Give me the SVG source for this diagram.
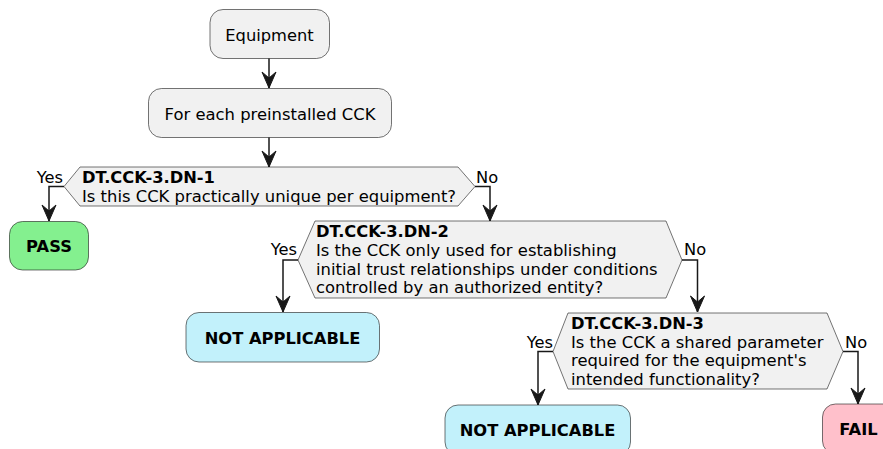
<svg xmlns="http://www.w3.org/2000/svg" width="883" height="449" viewBox="0 0 883 449">
<defs>
<style>
.node{fill:#F1F1F1;stroke:#181818;stroke-width:0.6}
.pass{fill:#84F08F;stroke:#181818;stroke-width:0.6}
.na{fill:#C2F1FB;stroke:#181818;stroke-width:0.6}
.fail{fill:#FFC0CB;stroke:#181818;stroke-width:0.6}
text{font-family:"DejaVu Sans",Verdana,sans-serif;font-size:16.3px;fill:#000}
.b{font-weight:bold}
.c{text-anchor:middle}
.e{text-anchor:end}
.edge{fill:none;stroke:#181818;stroke-width:1.5}
.ah{fill:#181818;stroke:#181818;stroke-width:1}
</style>
</defs>
<rect width="883" height="449" fill="#FFFFFF"/>

<g id="connectors">
<path class="edge" d="M269,58 V88"/>
<path class="ah" d="M262,72 L269,88 L276,72 L269,78 Z"/>
<path class="edge" d="M269,137 V167"/>
<path class="ah" d="M262,151 L269,167 L276,151 L269,157 Z"/>
<path class="edge" d="M64,186.5 H49 V221"/>
<path class="ah" d="M42,205 L49,221 L56,205 L49,211 Z"/>
<text x="63" y="183" class="e">Yes</text>
<path class="edge" d="M475,186.5 H490 V221"/>
<path class="ah" d="M483,205 L490,221 L497,205 L490,211 Z"/>
<text x="476" y="183">No</text>
<path class="edge" d="M298,260 H283 V312"/>
<path class="ah" d="M276,296 L283,312 L290,296 L283,302 Z"/>
<text x="297" y="255" class="e">Yes</text>
<path class="edge" d="M682,260 H697.5 V312"/>
<path class="ah" d="M690.5,296 L697.5,312 L704.5,296 L697.5,302 Z"/>
<text x="684" y="255">No</text>
<path class="edge" d="M553,351.5 H538 V405"/>
<path class="ah" d="M531,389 L538,405 L545,389 L538,395 Z"/>
<text x="553" y="348" class="e">Yes</text>
<path class="edge" d="M843,351.5 H858 V404"/>
<path class="ah" d="M851,388 L858,404 L865,388 L858,394 Z"/>
<text x="845" y="348">No</text>
</g>

<g id="equipment">
<rect class="node" x="210" y="9.5" width="119.5" height="49" rx="13"/>
<text x="269.5" y="40.5" class="c">Equipment</text>
</g>

<g id="foreach">
<rect class="node" x="148.5" y="88.5" width="243" height="49" rx="13"/>
<text x="270" y="119.5" class="c" style="font-size:16.4px">For each preinstalled CCK</text>
</g>

<g id="dn1">
<polygon class="node" points="64,186.5 80,167 458,167 475,186.5 458,206 80,206"/>
<text x="82" y="183" class="b">DT.CCK-3.DN-1</text>
<text x="82" y="201.5" style="font-size:16.4px">Is this CCK practically unique per equipment?</text>
</g>

<g id="pass">
<rect class="pass" x="9.5" y="221.5" width="79" height="48.5" rx="13"/>
<text x="49" y="252" class="c b">PASS</text>
</g>

<g id="dn2">
<polygon class="node" points="298,260 315,221 666,221 682,260 666,298 315,298"/>
<text x="316" y="237" class="b">DT.CCK-3.DN-2</text>
<text x="316" y="255.5" style="font-size:16.4px">Is the CCK only used for establishing</text>
<text x="316" y="274.5" style="font-size:16.4px">initial trust relationships under conditions</text>
<text x="316" y="293" style="font-size:16.4px">controlled by an authorized entity?</text>
</g>

<g id="na1">
<rect class="na" x="186" y="312.5" width="193.5" height="49.5" rx="13"/>
<text x="282.5" y="343.5" class="c b">NOT APPLICABLE</text>
</g>

<g id="dn3">
<polygon class="node" points="553,351.5 568,313 827,313 843,351.5 827,389 568,389"/>
<text x="571" y="329" class="b">DT.CCK-3.DN-3</text>
<text x="571" y="347.5" style="font-size:16.4px">Is the CCK a shared parameter</text>
<text x="571" y="366" style="font-size:16.4px">required for the equipment's</text>
<text x="571" y="384.5" style="font-size:16.4px">intended functionality?</text>
</g>

<g id="na2">
<rect class="na" x="445" y="405" width="185.5" height="50" rx="13"/>
<text x="537.5" y="435.5" class="c b">NOT APPLICABLE</text>
</g>

<g id="fail">
<rect class="fail" x="822.5" y="404" width="74" height="50" rx="13"/>
<text x="858.5" y="435" class="c b">FAIL</text>
</g>
</svg>
